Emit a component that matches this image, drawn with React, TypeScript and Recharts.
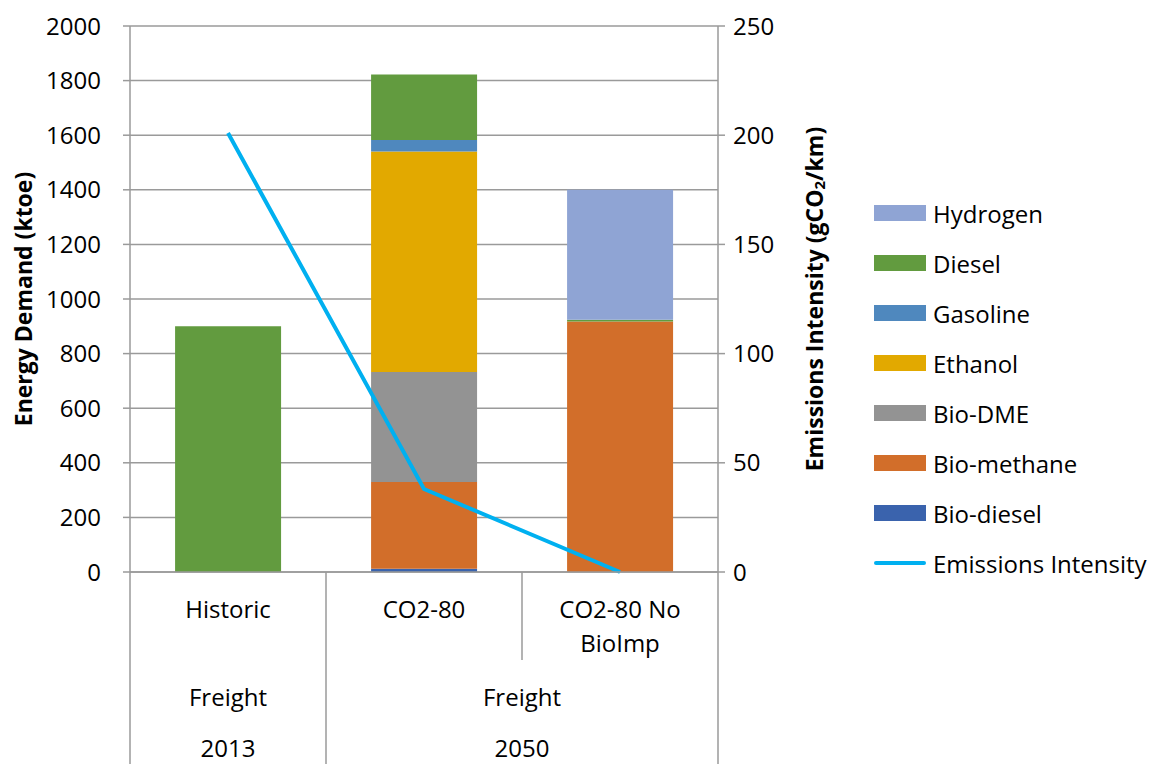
import { ComposedChart, Bar, Line, XAxis, YAxis, CartesianGrid, Legend } from "recharts"

const categories = ["Historic", "CO2-80", "CO2-80 No BioImp"]
const groupLabels = ["Freight", "Freight"]
const yearLabels = ["2013", "2050"]
const groupSizes = [1, 2]

const bioDiesel = [0, 12, 0]
const bioMethane = [0, 318, 918]
const bioDme = [0, 403, 0]
const ethanol = [0, 807, 0]
const gasoline = [0, 42, 0]
const diesel = [900, 240, 6]
const hydrogen = [0, 0, 476]
const emissionsIntensity = [201, 38, 0]

const energyTicks = [0, 200, 400, 600, 800, 1000, 1200, 1400, 1600, 1800, 2000]
const emissionTicks = [0, 50, 100, 150, 200, 250]

const FONT = "'Open Sans', 'Noto Sans', sans-serif"
const FONT_SIZE = 24
const AXIS = "#9a9a9a"

// stack order, bottom to top
const barSeries = [
  { key: "bioDiesel", name: "Bio-diesel", color: "#3A63AD" },
  { key: "bioMethane", name: "Bio-methane", color: "#D26E2A" },
  { key: "bioDme", name: "Bio-DME", color: "#939393" },
  { key: "ethanol", name: "Ethanol", color: "#E2A900" },
  { key: "gasoline", name: "Gasoline", color: "#4F88BE" },
  { key: "diesel", name: "Diesel", color: "#629B3F" },
  { key: "hydrogen", name: "Hydrogen", color: "#8FA4D4" },
]
const LINE_COLOR = "#00B0F0"

const data = categories.map((category, i) => ({
  category,
  bioDiesel: bioDiesel[i],
  bioMethane: bioMethane[i],
  bioDme: bioDme[i],
  ethanol: ethanol[i],
  gasoline: gasoline[i],
  diesel: diesel[i],
  hydrogen: hydrogen[i],
  emissions: emissionsIntensity[i],
}))

function wrap(text: string, maxChars: number) {
  const lines: string[] = []
  let cur = ""
  for (const w of text.split(" ")) {
    if (cur && (cur + " " + w).length > maxChars) {
      lines.push(cur)
      cur = w
    } else {
      cur = cur ? cur + " " + w : w
    }
  }
  if (cur) lines.push(cur)
  return lines
}

// group start index -> group number
const groupStarts: Record<number, number> = {}
groupSizes.reduce((start, size, g) => {
  groupStarts[start] = g
  return start + size
}, 0)

// eslint-disable-next-line @typescript-eslint/no-explicit-any
function MultiLevelTick({ x, y, payload }: any) {
  const i = payload.index
  const h = payload.offset || 98
  const g = groupStarts[i]
  const isGroupStart = g !== undefined
  const isLast = i === categories.length - 1
  const lines = wrap(payload.value, 10)
  const textProps = { textAnchor: "middle" as const, dominantBaseline: "central" as const, fontSize: FONT_SIZE, fontFamily: FONT, fill: "#000" }
  return (
    <g>
      <line x1={x - h} x2={x - h} y1={y} y2={y + (isGroupStart ? 192 : 88)} stroke={AXIS} strokeWidth={1.5} />
      {isLast && <line x1={x + h} x2={x + h} y1={y} y2={y + 192} stroke={AXIS} strokeWidth={1.5} />}
      {lines.map((l, k) => (
        <text key={k} x={x} y={y + 36 + k * 34} {...textProps}>
          {l}
        </text>
      ))}
      {isGroupStart && (
        <>
          <text x={x - h + groupSizes[g] * h} y={y + 124} {...textProps}>
            {groupLabels[g]}
          </text>
          <text x={x - h + groupSizes[g] * h} y={y + 175} {...textProps}>
            {yearLabels[g]}
          </text>
        </>
      )}
    </g>
  )
}

// eslint-disable-next-line @typescript-eslint/no-explicit-any
function LeftTitle({ viewBox }: any) {
  const cx = viewBox.x + 23
  const cy = viewBox.y + viewBox.height / 2
  return (
    <text x={cx} y={cy} transform={`rotate(-90 ${cx} ${cy})`} textAnchor="middle" dominantBaseline="central" fontSize={23} fontWeight="bold" fontFamily={FONT} fill="#000">
      Energy Demand (ktoe)
    </text>
  )
}

// eslint-disable-next-line @typescript-eslint/no-explicit-any
function RightTitle({ viewBox }: any) {
  const cx = viewBox.x + 96
  const cy = viewBox.y + viewBox.height / 2
  return (
    <text x={cx} y={cy} transform={`rotate(-90 ${cx} ${cy})`} textAnchor="middle" dominantBaseline="central" fontSize={23} fontWeight="bold" fontFamily={FONT} fill="#000">
      Emissions Intensity (gCO
      <tspan fontSize={15} dy={5}>2</tspan>
      <tspan dy={-5}>/km)</tspan>
    </text>
  )
}

const legendItems = [
  ...[...barSeries].reverse().map((s) => ({ name: s.name, color: s.color, line: false })),
  { name: "Emissions Intensity", color: LINE_COLOR, line: true },
]

function LegendContent() {
  return (
    <div style={{ fontFamily: FONT, fontSize: FONT_SIZE, color: "#000" }}>
      {legendItems.map((item) => (
        <div key={item.name} style={{ display: "flex", alignItems: "center", height: 50 }}>
          <div
            style={{
              width: 52,
              height: item.line ? 4 : 16,
              borderRadius: item.line ? 2 : 0,
              backgroundColor: item.color,
              flexShrink: 0,
            }}
          />
          <span style={{ marginLeft: 7, whiteSpace: "nowrap" }}>{item.name}</span>
        </div>
      ))}
    </div>
  )
}

export default function App() {
  return (
    <div style={{ width: 1155, height: 764, background: "#fff" }}>
      <style>{`body { margin: 0; }`}</style>
      <ComposedChart
        width={1155}
        height={764}
        data={data}
        margin={{ top: 26, right: 327, bottom: 0, left: 0 }}
        barCategoryGap="23%"
      >
        <CartesianGrid yAxisId="left" vertical={false} stroke={AXIS} strokeWidth={1.5} />
        <XAxis
          dataKey="category"
          height={192}
          tickSize={0}
          tickMargin={0}
          tickLine={false}
          axisLine={{ stroke: AXIS, strokeWidth: 1.5 }}
          tick={<MultiLevelTick />}
          interval={0}
        />
        <YAxis
          yAxisId="left"
          width={130}
          domain={[0, 2000]}
          ticks={energyTicks}
          tickSize={7}
          tickMargin={22}
          axisLine={{ stroke: AXIS, strokeWidth: 1.5 }}
          tickLine={{ stroke: AXIS, strokeWidth: 1.5 }}
          tick={{ fill: "#000", fontSize: FONT_SIZE, fontFamily: FONT }}
          label={<LeftTitle />}
        />
        <YAxis
          yAxisId="right"
          orientation="right"
          width={110}
          domain={[0, 250]}
          ticks={emissionTicks}
          tickSize={7}
          tickMargin={8}
          axisLine={{ stroke: AXIS, strokeWidth: 1.5 }}
          tickLine={{ stroke: AXIS, strokeWidth: 1.5 }}
          tick={{ fill: "#000", fontSize: FONT_SIZE, fontFamily: FONT, textAnchor: "start" }}
          label={<RightTitle />}
        />
        {barSeries.map((s) => (
          <Bar key={s.key} yAxisId="left" dataKey={s.key} name={s.name} stackId="a" fill={s.color} isAnimationActive={false} />
        ))}
        <Line
          yAxisId="right"
          type="linear"
          dataKey="emissions"
          name="Emissions Intensity"
          stroke={LINE_COLOR}
          strokeWidth={4}
          dot={false}
          isAnimationActive={false}
        />
        <Legend
          layout="horizontal"
          verticalAlign="middle"
          align="center"
          content={<LegendContent />}
          wrapperStyle={{ position: "absolute", left: 874, top: 188, width: 290, height: 400 }}
        />
      </ComposedChart>
    </div>
  )
}
